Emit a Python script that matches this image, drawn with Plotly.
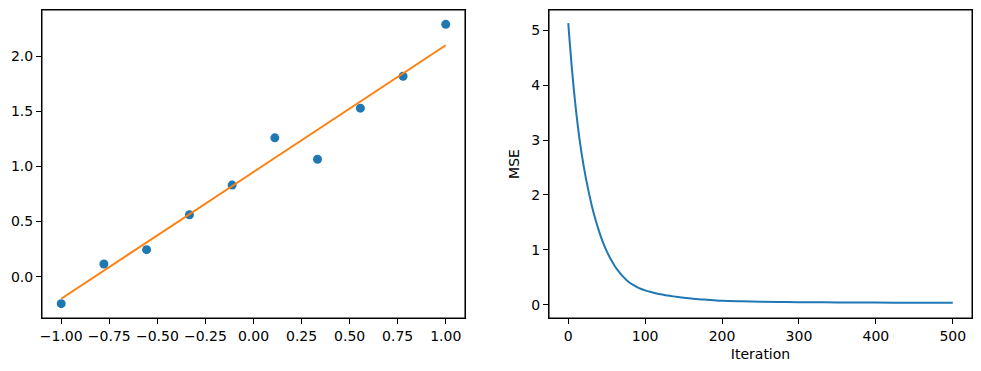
import plotly.graph_objects as go
from plotly.subplots import make_subplots

# ---- data ----
x_points = [-1.0, -0.778, -0.556, -0.333, -0.111, 0.111, 0.333, 0.556, 0.778, 1.0]
y_points = [-0.245, 0.115, 0.245, 0.562, 0.831, 1.26, 1.066, 1.529, 1.819, 2.29]

fit_x = [-1.0, 1.0]
fit_y = [-0.2, 2.1]

iterations = [0, 5, 10, 15, 20, 25, 30, 35, 40, 45, 50, 55, 60, 65, 70, 75, 80,
              85, 90, 95, 100, 105, 110, 115, 120, 125, 130, 135, 140, 145, 150,
              160, 170, 180, 190, 200, 225, 250, 275, 300, 350, 400, 450, 500]
mse = [5.13, 4.26, 3.55, 2.98, 2.53, 2.16, 1.84, 1.57, 1.34, 1.14, 0.975, 0.835,
       0.715, 0.615, 0.53, 0.46, 0.40, 0.355, 0.315, 0.285, 0.26, 0.24, 0.222,
       0.205, 0.19, 0.177, 0.165, 0.155, 0.145, 0.136, 0.128, 0.113, 0.10,
       0.09, 0.08, 0.072, 0.062, 0.055, 0.05, 0.046, 0.041, 0.038, 0.036, 0.034]

left_xticks = [-1.0, -0.75, -0.5, -0.25, 0.0, 0.25, 0.5, 0.75, 1.0]
left_xlabels = ["\u22121.00", "\u22120.75", "\u22120.50", "\u22120.25", "0.00",
                "0.25", "0.50", "0.75", "1.00"]
left_yticks = [0.0, 0.5, 1.0, 1.5, 2.0]
left_ylabels = ["0.0", "0.5", "1.0", "1.5", "2.0"]
right_xticks = [0, 100, 200, 300, 400, 500]
right_xlabels = ["0", "100", "200", "300", "400", "500"]
right_yticks = [0, 1, 2, 3, 4, 5]
right_ylabels = ["0", "1", "2", "3", "4", "5"]

BLUE = "#1f77b4"
ORANGE = "#ff7f0e"
FONT = "DejaVu Sans"
FS = 14

fig = make_subplots(rows=1, cols=2, horizontal_spacing=0.0904)

fig.add_trace(go.Scatter(x=x_points, y=y_points, mode="markers",
                         marker=dict(color=BLUE, size=9, line=dict(width=0)),
                         showlegend=False, cliponaxis=False), row=1, col=1)
fig.add_trace(go.Scatter(x=fit_x, y=fit_y, mode="lines",
                         line=dict(color=ORANGE, width=2),
                         showlegend=False), row=1, col=1)
fig.add_trace(go.Scatter(x=iterations, y=mse, mode="lines",
                         line=dict(color=BLUE, width=2, shape="spline", smoothing=1.0),
                         showlegend=False), row=1, col=2)

axis_common = dict(showgrid=False, zeroline=False, showline=True, mirror=True,
                   linecolor="black", linewidth=1, ticks="outside", ticklen=5,
                   tickwidth=1, tickcolor="black", automargin=False,
                   tickfont=dict(family=FONT, size=FS, color="black"))

fig.update_xaxes(**axis_common)
fig.update_yaxes(**axis_common)

fig.update_xaxes(domain=[0.0, 0.4548], range=[-1.1, 1.1],
                 tickmode="array", tickvals=left_xticks, ticktext=left_xlabels,
                 row=1, col=1)
fig.update_yaxes(range=[-0.375, 2.42], tickmode="array", tickvals=left_yticks,
                 ticktext=left_ylabels, row=1, col=1)
fig.update_xaxes(domain=[0.5452, 1.0], range=[-25, 525], tickmode="array",
                 tickvals=right_xticks, ticktext=right_xlabels,
                 title=dict(text="Iteration", font=dict(family=FONT, size=FS, color="black"),
                            standoff=6),
                 row=1, col=2)
fig.update_yaxes(range=[-0.243, 5.37], tickmode="array", tickvals=right_yticks,
                 ticktext=right_ylabels,
                 title=dict(text="MSE", font=dict(family=FONT, size=FS, color="black"),
                            standoff=8),
                 row=1, col=2)

# axes frames (all four spines)
for xr, yr in (("x", "y"), ("x2", "y2")):
    fig.add_shape(type="rect", xref=xr + " domain", yref=yr + " domain",
                  x0=0, x1=1, y0=0, y1=1, line=dict(color="black", width=1),
                  fillcolor="rgba(0,0,0,0)", layer="above")

# page body has an 8px margin: size/offset the figure so the axes land where
# they are in the 981x371 reference window
fig.update_layout(width=965, height=355, margin=dict(l=34, r=1, t=2, b=45),
                  plot_bgcolor="white", paper_bgcolor="white",
                  font=dict(family=FONT, size=FS, color="black"))

fig.write_html("out.html")
